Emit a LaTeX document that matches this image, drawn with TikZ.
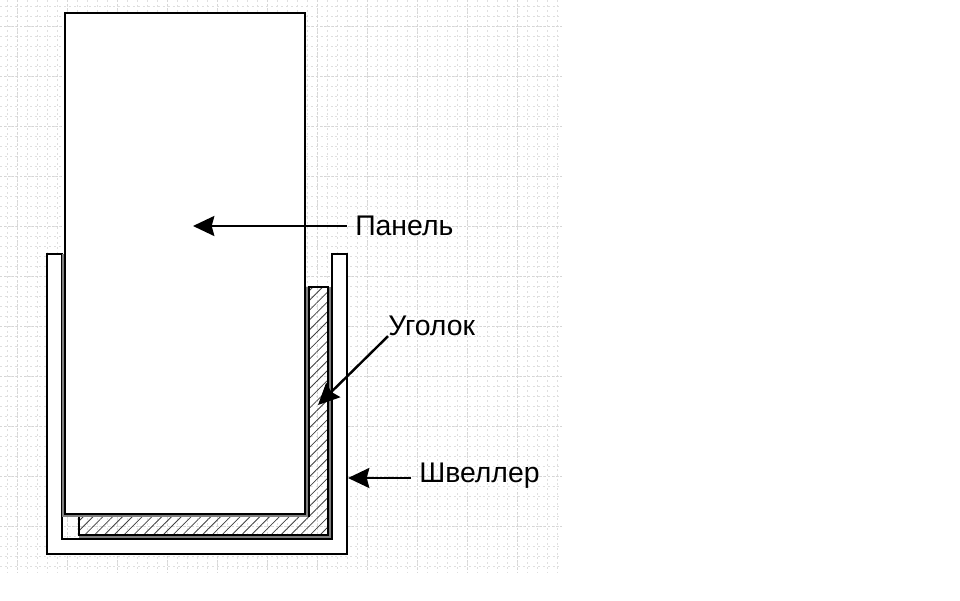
\documentclass[tikz,border=0pt]{standalone}
\usepackage{fontspec}
\setmainfont{Liberation Sans}
\usetikzlibrary{arrows.meta, positioning, patterns.meta}

\begin{document}
\begin{tikzpicture}[x=0.75pt, y=-0.75pt, font=\fontsize{21.3}{24}\selectfont,
                grid minor/.style={gray!25, line width=0.6pt, dash pattern=on 1.5pt off 2.2pt},
                grid major/.style={gray!32, line width=0.7pt, dash pattern=on 1.5pt off 1.5pt},
                part/.style={draw=black, line width=1.6pt, line join=miter},
                seam/.style={gray, line width=1.6pt},
                hatched/.style={part, pattern={Lines[angle=45, distance=5.2pt, line width=0.6pt]}, pattern color=black!75},
                callout/.style={inner sep=0pt, anchor=west},
                pointer/.style={-{Stealth[length=16pt, width=15pt, inset=2pt]}, line width=1.8pt, shorten <=6pt}]

                \useasboundingbox (0,0) rectangle (960,600);

                % Background grid
                \foreach \gx in {7,17,...,557} {
                    \draw[grid minor] (\gx,0) -- (\gx,573);
                }
                \foreach \gy in {6,16,...,566} {
                    \draw[grid minor] (0,\gy) -- (562,\gy);
                }
                \foreach \gx in {17,67,...,557} {
                    \draw[grid major] (\gx,0) -- (\gx,573);
                }
                \foreach \gy in {26,76,...,566} {
                    \draw[grid major] (0,\gy) -- (562,\gy);
                }

                % Channel, open at the top
                \draw[part, fill=white] (47,254) -- (47,554) -- (347,554) -- (347,254)
                    -- (332,254) -- (332,539) -- (62,539) -- (62,254) -- cycle;

                % Angle bar
                \draw[hatched] (79,516) -- (79,535) -- (328,535) -- (328,287)
                    -- (309,287) -- (309,516) -- cycle;
                \draw[seam] (79,537) -- (330,537) -- (330,287);

                % Panel
                \draw[seam] (63,254) -- (63,516) -- (307,516) -- (307,287);
                \draw[part, fill=white] (65,13) rectangle (305,514);

                % Labels
                \node[callout] (panel) at (355,226) {Панель};
                \node[callout] (angle) at (388,326) {Уголок};
                \node[callout] (channel) at (419,476) {Швеллер};

                % Free ends of the pointers
                \coordinate (panel tip) at (193,226);
                \coordinate (angle tip) at (318,405);
                \coordinate (channel tip) at (348,478);

                \draw[pointer] (panel.west) -- (panel tip);
                \draw[pointer, shorten <=0pt] (angle.south west) -- (angle tip);
                \draw[pointer] (channel.west |- channel tip) -- (channel tip);
            \end{tikzpicture}
\end{document}
